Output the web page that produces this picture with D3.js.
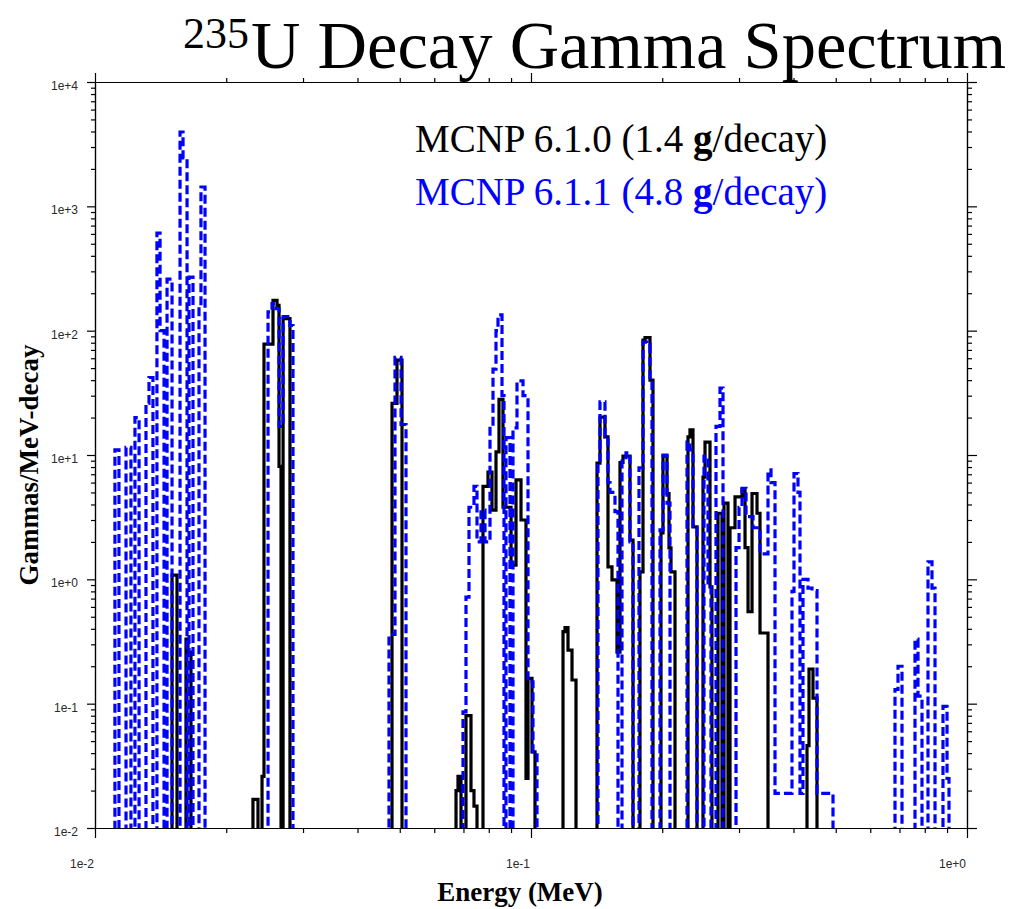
<!DOCTYPE html>
<html><head><meta charset="utf-8">
<script src="https://cdn.jsdelivr.net/npm/d3@7"></script>
<style>body{margin:0;background:#fff}</style>
</head><body>
<svg id="c" width="1009" height="909"></svg>
<script>
// ---- data ----
const xDomain = [0.01, 1];          // Energy (MeV)
const yDomain = [0.01, 10000];      // Gammas/MeV-decay
const xMajorTicks = [0.01, 0.1, 1];
const xTickLabels = ["1e-2", "1e-1", "1e+0"];
const yMajorTicks = [0.01, 0.1, 1, 10, 100, 1000, 10000];
const yTickLabels = ["1e-2", "1e-1", "1e+0", "1e+1", "1e+2", "1e+3", "1e+4"];
const titleSup = "235";
const titleMain = "U Decay Gamma Spectrum";
const legendParts = [["MCNP 6.1.0 (1.4 ", "g", "/decay)"], ["MCNP 6.1.1 (4.8 ", "g", "/decay)"]];
const xLabel = "Energy (MeV)";
const yLabel = "Gammas/MeV-decay";

// MCNP 6.1.0 histogram: bin edges (MeV) and bin values (0 = empty bin)
const blackEdges = [0.01502,0.01542,0.01617,0.01634,0.01660,0.02303,0.02365,0.02416,0.02441,0.02560,0.02615,0.02643,0.02671,0.02700,0.02800,
 0.04800,0.04928,0.05060,0.06730,0.06801,0.06910,0.07094,0.07284,0.07400,0.07519,0.07761,0.07968,0.08138,0.08312,0.08445,0.08625,0.09000,0.09239,0.09486,0.09739,0.09843,0.10053,0.10214,
 0.11842,0.11967,0.12158,0.12418,0.12683,0.14171,0.14396,0.14781,0.15017,0.15338,0.15749,0.16000,0.16256,0.16867,0.17138,
 0.17782,0.18067,0.18260,0.18747,0.19046,0.19868,0.20079,0.20508,0.20726,0.20946,0.21394,0.22913,0.23155,0.23527,0.24029,
 0.24802,0.25066,0.25737,0.26004,0.26847,0.27420,0.27712,0.28302,0.28605,0.29373,0.30479,0.30966,0.31461,0.32133,0.32991,0.33516,0.34961,
 0.42957,0.43412,0.44339,0.45285];
const blackValues = [1.08,0,0.33,0.26,0,0.017,0,0.026,78,175,160,8.1,0,125,0,
 26,58,0,0.02,0.026,0,0.08,0.02,0.015,0,5.6,7.3,3.6,10.6,28,3.8,1.3,6.3,3.0,0.025,0.16,0.041,0,
 0.38,0.41,0.27,0.155,0,8.6,20.2,14,1.26,0.99,0.26,8.7,9.8,2.07,0,
 1.15,84,88,40,0,2.36,9.8,4.9,1.79,1.15,0,14,15.9,2.64,0,
 6.65,12.7,0.87,0,3.4,0,4.1,0,2.6,4.6,5.3,1.8,0.55,4.9,3.4,0.37,0,
 0.046,0.19,0.111];

// MCNP 6.1.1 histogram
const blueEdges = [0.01111,0.01135,0.01178,0.01209,0.01235,0.01262,0.01309,0.01330,0.01358,0.01387,0.01410,0.01440,0.01463,0.01502,
 0.01567,0.01592,0.01626,0.01643,0.01678,0.01732,0.01750,0.01788,
 0.02494,0.02547,0.02600,0.02643,0.02700,0.02800,0.02845,0.04724,0.04876,0.05034,0.05168,
 0.06983,0.07094,0.07208,0.07400,0.07519,0.07679,0.07843,0.08053,0.08182,0.08312,0.08401,0.08580,0.08671,0.08763,0.08950,0.09093,0.09287,0.09586,0.09843,0.10106,0.10322,
 0.14245,0.14396,0.14781,0.15017,0.15177,0.15582,0.15832,0.16170,0.16515,0.16867,0.17138,0.17689,0.18067,0.18452,0.18747,0.18946,
 0.19764,0.20079,0.20508,0.20836,0.22793,0.23155,0.23527,0.24029,0.24934,0.25468,0.25872,0.26565,0.27132,0.27566,
 0.29529,0.30000,0.30479,0.31131,0.32302,0.33516,0.34961,0.35518,0.36279,0.39683,0.40106,0.40963,0.41397,0.42057,0.43182,0.44105,0.45285,0.49278,
 0.68369,0.69461,0.70945,0.75984,0.77200,0.78848,0.81384,0.83124,0.84456,0.88092,0.89990,0.90927];
const blueValues = [11,0,11.5,0,20,0,26,42,0,610,100,0,260,0,
 3960,2450,0,270,0,155,1430,0,
 142,165,150,17,130,110,0,0.36,61,17.6,0,
 0.086,0.72,3.8,5.6,2.0,3.6,2.0,17,49,100,134,30,0,13.8,0,16.5,39.5,30,0.15,0.041,0,
 8.6,26.7,14,6.0,5.0,3.5,0,9.5,10.4,2.0,0,7.9,81,78,40,0,
 2.5,10,4.1,0,12.7,11,2.6,0,9.8,0.87,0,17,34.5,0,
 1.8,3.8,5.4,3.2,2.6,1.6,7.6,6.0,0.019,0.8,7.1,5.0,0.019,1.0,0.85,0.81,0.019,0,
 0.13,0.2,0,0.33,0.115,0,1.38,0.85,0,0.095,0.025];

// ---- drawing ----
const svg = d3.select("#c");
const plot = {left: 95, right: 967, top: 82, bottom: 828};
const x = d3.scaleLog().domain(xDomain).range([plot.left, plot.right]);
const y = d3.scaleLog().domain(yDomain).range([plot.bottom, plot.top]);

function minorTicks(scale) {
  const [a, b] = scale.domain();
  const out = [];
  for (let e = Math.round(Math.log10(a)); e < Math.round(Math.log10(b)); e++)
    for (let m = 2; m <= 9; m++) out.push(m * Math.pow(10, e));
  return out;
}

svg.append("defs").append("clipPath").attr("id", "clip")
  .append("rect").attr("x", plot.left).attr("y", plot.top)
  .attr("width", plot.right - plot.left).attr("height", plot.bottom - plot.top);

const floorVal = 1e-4;
function histPoints(edges, values) {
  const pts = [[edges[0], floorVal]];
  values.forEach((v, i) => pts.push([edges[i], v > 0 ? v : floorVal]));
  pts.push([edges[edges.length - 1], floorVal]);
  return pts;
}
const line = d3.line().x(d => x(d[0])).y(d => y(d[1])).curve(d3.curveStepAfter);

const g = svg.append("g").attr("clip-path", "url(#clip)");
g.append("path").attr("d", line(histPoints(blackEdges, blackValues)))
  .attr("fill", "none").attr("stroke", "#000").attr("stroke-width", 3.2);
g.append("path").attr("d", line(histPoints(blueEdges, blueValues)))
  .attr("fill", "none").attr("stroke", "#0000ff").attr("stroke-width", 3.2)
  .attr("stroke-dasharray", "9,4");

// axes (frame + ticks)
function axisPair(axisFn, scale, transform, majorLen, minorLen, majors) {
  svg.append("g").attr("transform", transform)
    .call(axisFn(scale).tickValues(minorTicks(scale)).tickSize(minorLen).tickSizeOuter(0).tickFormat(""));
  svg.append("g").attr("transform", transform)
    .call(axisFn(scale).tickValues(majors).tickSize(majorLen).tickSizeOuter(0).tickFormat(""));
}
axisPair(d3.axisBottom, x, `translate(0,${plot.bottom})`, 10, 5, xMajorTicks);
axisPair(d3.axisTop, x, `translate(0,${plot.top})`, 9, 4, xMajorTicks);
axisPair(d3.axisLeft, y, `translate(${plot.left},0)`, 8, 4, yMajorTicks);
axisPair(d3.axisRight, y, `translate(${plot.right},0)`, 10, 5, yMajorTicks);
svg.selectAll(".domain").attr("stroke", "#000").attr("stroke-width", 1.2);
svg.selectAll(".tick line").attr("stroke", "#000").attr("stroke-width", 1.2);

// tick labels
const tickFont = "Liberation Sans, Arial, sans-serif";
svg.append("g").selectAll("text").data(xMajorTicks).join("text")
  .attr("x", d => x(d) - 1).attr("y", 868).attr("text-anchor", "end")
  .attr("font-family", tickFont).attr("font-size", 12).attr("fill", "#2a2a2a")
  .text((d, i) => xTickLabels[i]);
svg.append("g").selectAll("text").data(yMajorTicks).join("text")
  .attr("x", 78).attr("y", d => y(d) + 8).attr("text-anchor", "end")
  .attr("font-family", tickFont).attr("font-size", 12).attr("fill", "#2a2a2a")
  .text((d, i) => yTickLabels[i]);

// title
const serif = "Liberation Serif, Times New Roman, serif";
const title = svg.append("text").attr("x", 183).attr("y", 68).attr("font-family", serif).attr("fill", "#000");
title.append("tspan").attr("font-size", 44).attr("dy", -20).text(titleSup);
title.append("tspan").attr("font-size", 68.5).attr("dy", 20).attr("x", 251).text(titleMain);

// legend
const legendColors = ["#000", "#0000ff"];
svg.append("g").selectAll("text").data(legendParts).join("text")
  .attr("x", 415).attr("y", (d, i) => 152 + i * 53)
  .attr("font-family", serif).attr("font-size", 39)
  .attr("fill", (d, i) => legendColors[i])
  .each(function(d) {
    const t = d3.select(this);
    t.append("tspan").text(d[0]);
    t.append("tspan").attr("font-weight", "bold").text(d[1]);
    t.append("tspan").text(d[2]);
  });

// axis titles
svg.append("text").attr("x", 520).attr("y", 901).attr("text-anchor", "middle")
  .attr("font-family", serif).attr("font-weight", "bold").attr("font-size", 27).text(xLabel);
svg.append("text").attr("transform", "translate(38,465) rotate(-90)").attr("text-anchor", "middle")
  .attr("font-family", serif).attr("font-weight", "bold").attr("font-size", 27).text(yLabel);
</script>
</body></html>
